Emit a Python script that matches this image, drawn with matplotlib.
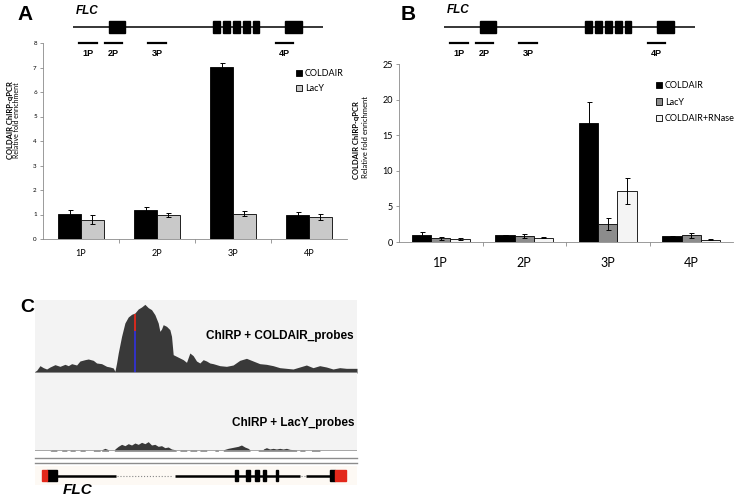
import numpy as np
import matplotlib.pyplot as plt
from matplotlib.lines import Line2D
from matplotlib.patches import Rectangle

W, H = 740, 500

categories = ['1P', '2P', '3P', '4P']

# panel A : ChIRP-qPCR
a_coldair = [1.02, 1.18, 7.02, 1.00]
a_coldair_err = [0.17, 0.12, 0.15, 0.12]
a_lacy = [0.78, 0.97, 1.04, 0.89]
a_lacy_err = [0.18, 0.09, 0.12, 0.12]

# panel B : with RNase control
b_coldair = [1.05, 1.02, 16.7, 0.82]
b_coldair_err = [0.30, 0.03, 2.9, 0.08]
b_lacy = [0.55, 0.85, 2.55, 0.93]
b_lacy_err = [0.20, 0.30, 0.85, 0.38]
b_rnase = [0.42, 0.62, 7.2, 0.35]
b_rnase_err = [0.08, 0.10, 1.85, 0.06]

# FLC schematic (arbitrary units along the gene)
gene_len = 250
exons = [(36, 52), (140, 147), (150, 157), (160, 167), (170, 177), (180, 186), (212, 229)]
probes = [(6, 24), (32, 49), (75, 93), (203, 220)]

# panel C : coverage tracks (position, read depth, arbitrary units)
cold_pos = [0, 5, 15, 25, 35, 45, 60, 75, 90, 100, 110, 125, 135, 150, 160, 175, 185, 200, 215, 225,
            235, 240, 245, 250, 260, 270, 280, 290, 300, 310, 320, 330, 340, 350, 360, 370, 375, 380,
            385, 395, 405, 410, 415, 425, 435, 445, 455, 465, 475, 485, 495, 505, 515, 525, 535, 555,
            575, 595, 615, 635, 655, 675, 695, 715, 735, 755, 775, 795, 815, 835, 855, 875, 895, 915,
            935, 955, 967]
cold_depth = [5, 8, 22, 16, 12, 18, 25, 20, 26, 22, 28, 24, 36, 40, 42, 38, 30, 28, 20, 18,
              15, 5, 30, 60, 110, 150, 168, 176, 180, 192, 198, 206, 196, 190, 175, 150, 125, 132,
              145, 140, 130, 110, 55, 50, 45, 40, 32, 60, 52, 36, 30, 40, 36, 30, 28, 22,
              20, 24, 38, 44, 36, 28, 26, 22, 16, 14, 12, 18, 24, 16, 22, 18, 12, 16,
              14, 14, 14]
lacy_pos = [45, 50, 65, 66, 80, 81, 95, 96, 105, 106, 120, 121, 135, 136, 150, 151, 175, 176, 195, 196,
            200, 201, 210, 220, 221, 238, 240, 250, 260, 270, 280, 290, 300, 310, 320, 330, 340, 350,
            360, 370, 380, 390, 400, 410, 420, 425, 435, 436, 455, 456, 465, 466, 485, 486, 495, 496,
            515, 516, 540, 541, 550, 551, 565, 567, 580, 590, 600, 610, 620, 630, 640, 645, 646, 670,
            671, 685, 686, 695, 705, 715, 725, 735, 745, 755, 765, 775, 785, 786, 795, 796, 810, 811,
            830, 831, 855, 856]
lacy_depth = [0, 3, 3, 0, 0, 3, 3, 0, 0, 3, 3, 0, 0, 3, 3, 0, 0, 3, 3, 0,
              0, 4, 8, 4, 0, 0, 6, 14, 20, 16, 22, 18, 24, 20, 26, 22, 28, 18,
              20, 14, 16, 10, 12, 6, 4, 0, 0, 3, 3, 0, 0, 3, 3, 0, 0, 3,
              3, 0, 0, 3, 3, 0, 0, 4, 8, 10, 12, 14, 18, 12, 8, 4, 0, 0,
              3, 3, 6, 10, 6, 8, 6, 8, 6, 8, 5, 4, 3, 0, 0, 3, 3, 0,
              0, 3, 3, 0]
peak_mark = 300
model_utr = [(20, 35), (900, 935)]
model_cds = [(35, 65), (600, 610), (635, 645), (660, 673), (685, 695), (723, 730), (885, 900)]
model_introns = [(65, 243), (420, 795), (815, 885)]
model_gaps = [(245, 415), (798, 810)]

xl_font = 'Lato'
ar_font = 'Liberation Sans'


def px(x0, y0, x1, y1):
    """pixel box (top-left origin) -> figure rect"""
    return [x0 / W, 1 - y1 / H, (x1 - x0) / W, (y1 - y0) / H]


def fig_line(fig, x0, x1, y, color, lw):
    fig.add_artist(Line2D([x0 / W, x1 / W], [1 - y / H, 1 - y / H], transform=fig.transFigure,
                          color=color, lw=lw))


def gene_diagram(fig, x0, x1, y_line):
    ax = fig.add_axes(px(x0, y_line - 14, x1, y_line + 30), zorder=5)
    ax.patch.set_alpha(0)
    ax.set_xlim(0, gene_len)
    ax.set_ylim(30, -14)
    ax.axis('off')
    ax.plot([0, gene_len], [0, 0], color='black', lw=1.1)
    for s, e in exons:
        ax.add_patch(Rectangle((s, -6), e - s, 12, color='black'))
    for (s, e), lab in zip(probes, categories):
        ax.plot([s, e], [16, 16], color='black', lw=1.6)
        ax.text((s + e) / 2, 26, lab, ha='center', va='center', fontsize=6.5,
                fontweight='bold', family=ar_font)


def bar_panel(fig, rect, series, width, ymax, step, tick_fs, xtick_fs, xpad):
    ax = fig.add_axes(rect)
    ax.patch.set_alpha(0)
    x = np.arange(len(categories))
    n = len(series)
    for i, (name, vals, err, col) in enumerate(series):
        off = (i - (n - 1) / 2) * width
        ax.bar(x + off, vals, width, color=col, edgecolor='black', linewidth=0.6, label=name,
               yerr=err, error_kw=dict(ecolor='black', elinewidth=0.7, capsize=1.8, capthick=0.7))
    ax.set_xlim(-0.5, len(categories) - 0.5)
    ax.set_ylim(0, ymax)
    ax.set_yticks(np.arange(0, ymax + step / 2, step))
    ax.set_xticks(x)
    ax.set_xticklabels(categories, fontsize=xtick_fs, family=xl_font)
    ax.set_xticks(x[1:] - 0.5, minor=True)
    for t in ax.get_yticklabels():
        t.set_fontsize(tick_fs)
        t.set_family(xl_font)
    ax.tick_params(axis='x', which='major', length=0, pad=xpad)
    ax.tick_params(axis='x', which='minor', length=3, color='#8a8a8a', width=0.6)
    ax.tick_params(axis='y', length=2.5, color='#8a8a8a', width=0.6, pad=2)
    for s in ['top', 'right']:
        ax.spines[s].set_visible(False)
    for s in ['left', 'bottom']:
        ax.spines[s].set_color('#8a8a8a')
        ax.spines[s].set_linewidth(0.6)
    return ax


fig = plt.figure(figsize=(W / 100, H / 100), dpi=100)

# ---- panel A ----
fig.text(17 / W, 1 - 15 / H, 'A', fontsize=15, fontweight='bold', family=ar_font, va='center')
fig.text(76 / W, 1 - 11 / H, 'FLC', fontsize=8.5, fontweight='bold', style='italic', family=ar_font,
         va='center')
gene_diagram(fig, 73, 323, 27)
axA = bar_panel(fig, px(43, 43, 347, 239),
                [('COLDAIR', a_coldair, a_coldair_err, 'black'),
                 ('LacY', a_lacy, a_lacy_err, '#c9c9c9')],
                0.3, 8, 1, 4.5, 6.5, 7)
axA.legend(loc='upper left', bbox_to_anchor=(296 / W, 1 - 69 / H), bbox_transform=fig.transFigure,
           frameon=False, prop={'family': xl_font, 'size': 6.5}, borderpad=0,
           borderaxespad=0, handletextpad=0.3, handlelength=0.7, handleheight=0.7, labelspacing=0.7)
fig.text(11 / W, 1 - 120 / H, 'COLDAIR ChIRP-qPCR', rotation=90, fontsize=5.5, fontweight='bold',
         family=xl_font, ha='center', va='center')
fig.text(17 / W, 1 - 120 / H, 'Relative fold enrichment', rotation=90, fontsize=5, family=xl_font,
         ha='center', va='center')

# ---- panel B ----
fig.text(401 / W, 1 - 15 / H, 'B', fontsize=15, fontweight='bold', family=ar_font, va='center')
fig.text(447 / W, 1 - 10 / H, 'FLC', fontsize=8.5, fontweight='bold', style='italic', family=ar_font,
         va='center')
gene_diagram(fig, 444, 695, 27)
axB = bar_panel(fig, px(399, 64, 733, 242),
                [('COLDAIR', b_coldair, b_coldair_err, 'black'),
                 ('LacY', b_lacy, b_lacy_err, '#8c8c8c'),
                 ('COLDAIR+RNase', b_rnase, b_rnase_err, '#f4f4f4')],
                0.23, 25, 5, 6.5, 9, 11)
axB.legend(loc='upper left', bbox_to_anchor=(656 / W, 1 - 81 / H), bbox_transform=fig.transFigure,
           frameon=False, prop={'family': xl_font, 'size': 6.5}, borderpad=0,
           borderaxespad=0, handletextpad=0.3, handlelength=0.7, handleheight=0.7, labelspacing=0.85)
fig.text(357 / W, 1 - 140 / H, 'COLDAIR ChIRP-qPCR', rotation=90, fontsize=5.5, fontweight='bold',
         family=xl_font, ha='center', va='center')
fig.text(365 / W, 1 - 137 / H, 'Relative fold enrichment', rotation=90, fontsize=5.5, family=xl_font,
         ha='center', va='center')

# ---- panel C ----
fig.text(20 / W, 1 - 308 / H, 'C', fontsize=14, fontweight='bold', family=ar_font, va='center')
track_len = 967

ax1 = fig.add_axes(px(35, 300, 357, 373))
ax1.set_facecolor('#f3f3f3')
ax1.fill_between(cold_pos, cold_depth, color='#393939', lw=0)
ax1.plot([peak_mark, peak_mark], [0, 130], color='#3232c8', lw=1.4)
ax1.plot([peak_mark, peak_mark], [130, 175], color='#d82a1e', lw=1.4)
ax1.axhline(0, color='#9a9a9a', lw=1.2)
ax1.set_xlim(0, track_len)
ax1.set_ylim(0, 219)
ax1.text(0.991, 0.50, 'ChIRP + COLDAIR_probes', transform=ax1.transAxes, ha='right', va='center',
         fontsize=8.5, fontweight='bold', family=ar_font)

ax2 = fig.add_axes(px(35, 373, 357, 451))
ax2.set_facecolor('#f3f3f3')
ax2.fill_between(lacy_pos, lacy_depth, color='#393939', lw=0)
ax2.axhline(0, color='#9a9a9a', lw=1.2)
ax2.set_xlim(0, track_len)
ax2.set_ylim(0, 234)
ax2.text(0.991, 0.36, 'ChIRP + LacY_probes', transform=ax2.transAxes, ha='right', va='center',
         fontsize=8.5, fontweight='bold', family=ar_font)

for ax in (ax1, ax2):
    ax.set_xticks([])
    ax.set_yticks([])
    for s in ax.spines.values():
        s.set_visible(False)

fig_line(fig, 35, 357, 458, '#8c8c8c', 1.0)
fig_line(fig, 35, 357, 462.5, '#8c8c8c', 1.0)

ax3 = fig.add_axes(px(35, 466, 357, 485))
ax3.set_facecolor('#fdf9f4')
ax3.set_xlim(0, track_len)
ax3.set_ylim(-1, 1)
for s, e in model_introns:
    ax3.plot([s, e], [0, 0], color='black', lw=1.8, solid_capstyle='butt')
for s, e in model_gaps:
    ax3.plot([s, e], [0, 0], color='#888888', lw=0.8, ls=':')
for s, e in model_cds:
    ax3.add_patch(Rectangle((s, -0.62), e - s, 1.24, color='black'))
for s, e in model_utr:
    ax3.add_patch(Rectangle((s, -0.62), e - s, 1.24, color='#e3281b'))
ax3.set_xticks([])
ax3.set_yticks([])
for s in ax3.spines.values():
    s.set_visible(False)

fig.text(63 / W, 1 - 490 / H, 'FLC', fontsize=11, fontweight='bold', style='italic', family=ar_font,
         va='center')

fig.savefig('out.png', dpi=100)
